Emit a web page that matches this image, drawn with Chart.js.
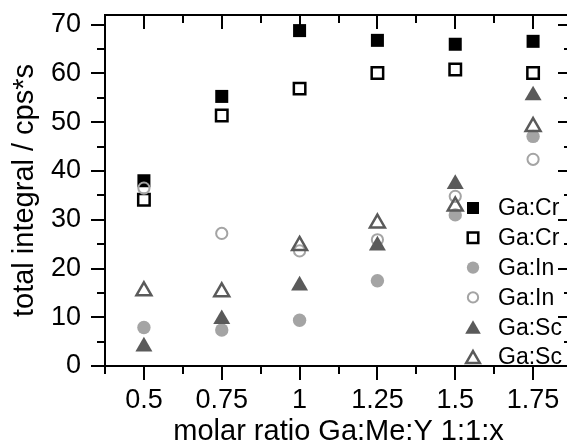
<!DOCTYPE html>
<html>
<head>
<meta charset="utf-8">
<script src="https://cdn.jsdelivr.net/npm/chart.js@4.4.1/dist/chart.umd.min.js"></script>
<style>
  html, body { margin: 0; padding: 0; background: #fff; overflow: hidden; width: 567px; height: 443px; }
  #wrap { position: relative; width: 620px; height: 460px; }
</style>
</head>
<body>
<div id="wrap"><canvas id="c" width="620" height="460"></canvas></div>
<script>
// molar ratio Ga:Me:Y 1:1:x
const ratios = [0.5, 0.75, 1, 1.25, 1.5, 1.75];

// total integral (cps*s) per series
const crFilled = [38.0, 55.3, 68.8, 66.8, 66.0, 66.6];
const crOpen   = [34.1, 51.4, 56.9, 60.1, 60.8, 60.1];
const inFilled = [7.9, 7.4, 9.4, 17.5, 31.0, 47.1];
const inOpen   = [36.5, 27.2, 23.6, 25.9, 34.8, 42.4];
const scFilled = [4.0, 9.6, 16.5, 24.7, 37.3, 55.5];
const scOpen   = [15.4, 15.2, 24.7, 29.3, 32.8, 49.1];

const seriesNames = ['Ga:Cr', 'Ga:Cr', 'Ga:In', 'Ga:In', 'Ga:Sc', 'Ga:Sc'];

const xTicks = [0.5, 0.75, 1, 1.25, 1.5, 1.75];
const yTicks = [0, 10, 20, 30, 40, 50, 60, 70];

const FONT = '"Liberation Sans", Arial, Helvetica, sans-serif';
const LIGHT = '#a4a4a4';
const DARK = '#5a5a5a';

const pts = vals => ratios.map((r, i) => ({ x: r, y: vals[i] }));

const styles = [
  { data: crFilled, pointStyle: 'rect', radius: 9.2, bg: '#000', border: '#000', bw: 0, order: 5 },
  { data: crOpen, pointStyle: 'rect', radius: 8.1, bg: '#fff', border: '#000', bw: 2.5, order: 4 },
  { data: inFilled, pointStyle: 'circle', radius: 6.7, bg: LIGHT, border: LIGHT, bw: 0, order: 3 },
  { data: inOpen, pointStyle: 'circle', radius: 5.6, bg: 'rgba(255,255,255,0)', border: LIGHT, bw: 2, order: 2 },
  { data: scFilled, pointStyle: 'triangle', radius: 9.8, bg: DARK, border: DARK, bw: 0, order: 1 },
  { data: scOpen, pointStyle: 'triangle', radius: 8.6, bg: 'rgba(255,255,255,0)', border: DARK, bw: 2.5, order: 0 }
];

const datasets = styles.map((s, i) => ({
  label: seriesNames[i],
  data: pts(s.data),
  showLine: false,
  pointStyle: s.pointStyle,
  pointRadius: s.radius,
  pointHoverRadius: s.radius,
  backgroundColor: s.bg,
  borderColor: s.border,
  pointBorderWidth: s.bw,
  borderWidth: s.bw,
  order: s.order,
  clip: 12
}));

// mirrored top/right axes, minor ticks and the in-plot legend
const framePlugin = {
  id: 'frame',
  afterDatasetsDraw(chart) {
    const { ctx, chartArea: a, scales: { x, y } } = chart;
    ctx.save();
    ctx.strokeStyle = '#000';
    ctx.lineWidth = 2;
    ctx.beginPath();
    ctx.moveTo(a.left, a.top); ctx.lineTo(a.right, a.top);
    ctx.moveTo(a.right, a.top); ctx.lineTo(a.right, a.bottom);
    const xMinor = xTicks.map(v => v - 0.125).concat([xTicks[xTicks.length - 1] + 0.125]);
    const yMinor = yTicks.slice(0, -1).map(v => v + 5);
    xTicks.forEach(v => {
      const px = Math.round(x.getPixelForValue(v));
      ctx.moveTo(px, a.top); ctx.lineTo(px, a.top + 14);
    });
    xMinor.forEach(v => {
      const px = Math.round(x.getPixelForValue(v));
      ctx.moveTo(px, a.top); ctx.lineTo(px, a.top + 8);
      ctx.moveTo(px, a.bottom); ctx.lineTo(px, a.bottom + 8);
    });
    yTicks.forEach(v => {
      const py = Math.round(y.getPixelForValue(v));
      ctx.moveTo(a.right, py); ctx.lineTo(a.right - 14, py);
    });
    yMinor.forEach(v => {
      const py = Math.round(y.getPixelForValue(v));
      ctx.moveTo(a.right, py); ctx.lineTo(a.right - 8, py);
      ctx.moveTo(a.left, py); ctx.lineTo(a.left - 8, py);
    });
    ctx.stroke();

    // legend
    const lx = 473, tx = 498, ly0 = 208, dy = 29.8;
    ctx.font = '23px ' + FONT;
    ctx.textBaseline = 'middle';
    ctx.textAlign = 'left';
    styles.forEach((s, i) => {
      const yy = ly0 + i * dy;
      ctx.fillStyle = s.bg;
      ctx.strokeStyle = s.border;
      ctx.lineWidth = s.bw;
      Chart.helpers.drawPoint(ctx, { pointStyle: s.pointStyle, radius: s.radius * 0.92, rotation: 0, borderWidth: s.bw }, lx, yy + (s.pointStyle === 'triangle' ? 2 : 0));
      ctx.fillStyle = '#000';
      ctx.fillText(seriesNames[i], tx, yy + 1);
    });
    ctx.restore();
  }
};

new Chart(document.getElementById('c'), {
  type: 'scatter',
  data: { datasets },
  options: {
    responsive: false,
    animation: false,
    events: [],
    layout: { padding: { top: 15, right: 48, left: 0, bottom: 0 } },
    plugins: { legend: { display: false }, tooltip: { enabled: false } },
    scales: {
      x: {
        type: 'linear',
        min: 0.375,
        max: 1.875,
        afterBuildTicks: s => { s.ticks = xTicks.map(v => ({ value: v })); },
        afterFit: s => { s.height = 94; s.paddingLeft = 0; s.paddingRight = 0; },
        border: { display: true, color: '#000', width: 2 },
        grid: { display: true, drawOnChartArea: false, drawTicks: true, tickLength: 14, color: '#000', lineWidth: 2 },
        ticks: {
          color: '#000',
          padding: 4,
          maxRotation: 0,
          autoSkip: false,
          font: { family: FONT, size: 27 },
          callback: v => String(v)
        },
        title: {
          display: true,
          text: 'molar ratio Ga:Me:Y 1:1:x',
          color: '#000',
          font: { family: FONT, size: 29 },
          padding: { top: 0, bottom: 11 }
        }
      },
      y: {
        type: 'linear',
        min: 0,
        max: 72,
        afterBuildTicks: s => { s.ticks = yTicks.map(v => ({ value: v })); },
        afterFit: s => { s.width = 105; s.paddingTop = 0; s.paddingBottom = 0; },
        border: { display: true, color: '#000', width: 2 },
        grid: { display: true, drawOnChartArea: false, drawTicks: true, tickLength: 14, color: '#000', lineWidth: 2 },
        ticks: {
          color: '#000',
          padding: 10,
          font: { family: FONT, size: 27 },
          callback: v => String(v)
        },
        title: {
          display: true,
          text: 'total integral / cps*s',
          color: '#000',
          font: { family: FONT, size: 29 },
          padding: { top: 8, bottom: 0 }
        }
      }
    }
  },
  plugins: [framePlugin]
});
</script>
</body>
</html>
